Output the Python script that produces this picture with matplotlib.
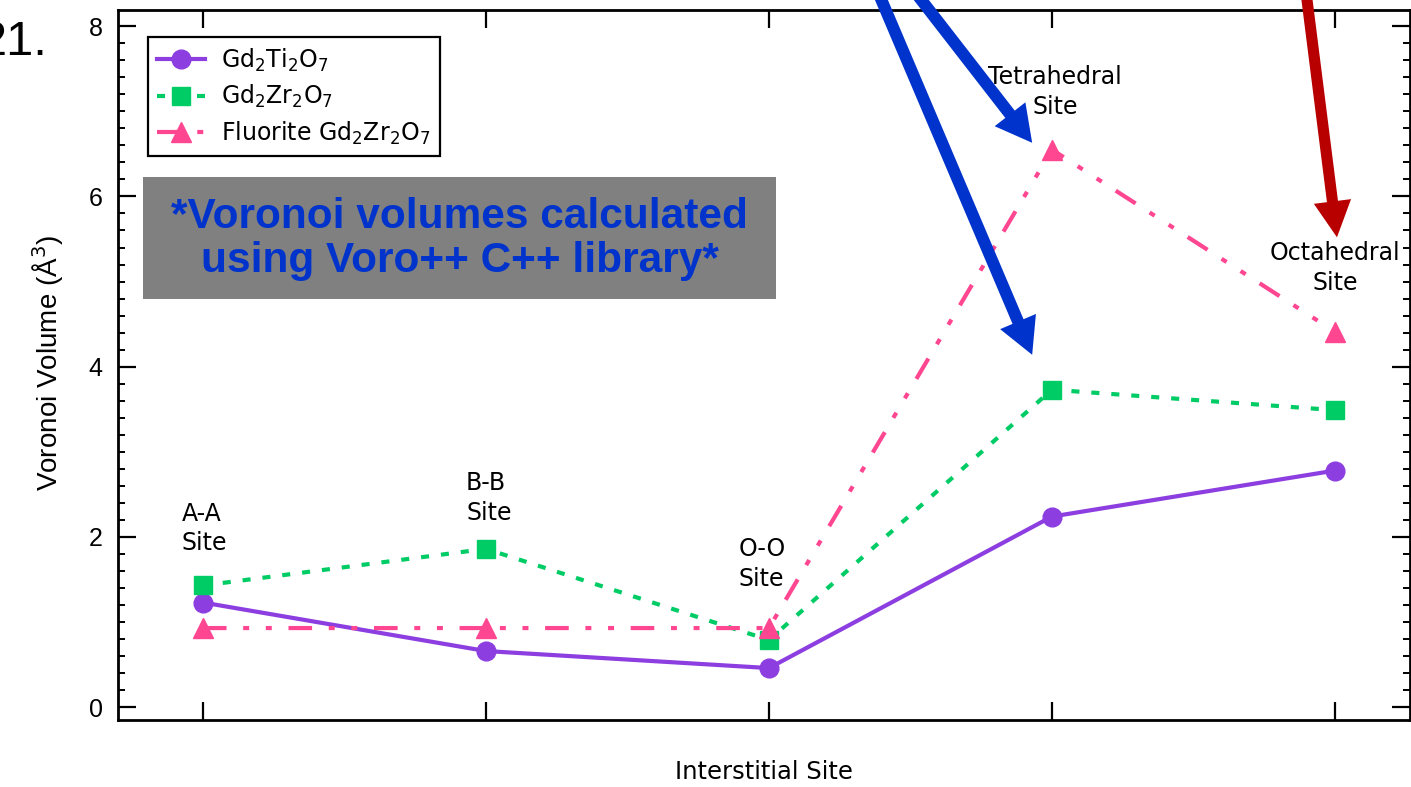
import matplotlib
matplotlib.use('Agg')
import matplotlib.pyplot as plt
from matplotlib.patches import Rectangle
from matplotlib.ticker import MultipleLocator, FuncFormatter

# data
sites = ['A-A Site', 'B-B Site', 'O-O Site', 'Tetrahedral Site', 'Octahedral Site']
gd2ti2o7 = [1.23, 0.66, 0.46, 2.24, 2.78]
gd2zr2o7 = [1.43, 1.86, 0.79, 3.73, 3.49]
fluorite_gd2zr2o7 = [0.93, 0.93, 0.93, 6.55, 4.41]

site_labels = ['A-A\nSite', 'B-B\nSite', 'O-O\nSite', 'Tetrahedral\nSite', 'Octahedral\nSite']

plt.rcParams['font.family'] = ['DejaVu Sans']
plt.rcParams['mathtext.fontset'] = 'dejavusans'
plt.rcParams['lines.scale_dashes'] = False

purple = '#8c3ee0'
green = '#00cc66'
pink = '#ff4690'
blue = '#0033cc'
red = '#b80000'

fig = plt.figure(figsize=(14.11, 7.87), dpi=100)
ax = fig.add_axes([118 / 1411, 67 / 787, 1292 / 1411, 710 / 787])

x = list(range(len(sites)))

# the three series
ax.plot(x, gd2ti2o7, color=purple, lw=3, marker='o', ms=13.5,
        label=r'Gd$_2$Ti$_2$O$_7$', zorder=3)
ax.plot(x, gd2zr2o7, color=green, lw=3, ls=(0, (5.8, 8.6)), marker='s', ms=12.5,
        label=r'Gd$_2$Zr$_2$O$_7$', zorder=4)
ax.plot(x, fluorite_gd2zr2o7, color=pink, lw=3,
        ls=(0, (17, 12, 4.3, 12, 4.3, 12)), marker='^', ms=15,
        label=r'Fluorite Gd$_2$Zr$_2$O$_7$', zorder=5)

ax.set_xlim(-0.30, 4.265)
ax.set_ylim(-0.15, 8.19)

# axes / ticks
for sp in ax.spines.values():
    sp.set_linewidth(2)
ax.set_xticks(x)
ax.set_xticklabels([])
ax.tick_params(axis='x', which='major', direction='in', length=13, width=1.6,
               top=True, bottom=True)
ax.yaxis.set_major_locator(MultipleLocator(2))
ax.yaxis.set_minor_locator(MultipleLocator(0.2))
ax.yaxis.set_major_formatter(FuncFormatter(lambda v, p: '%d' % v))
ax.tick_params(axis='y', which='major', direction='in', length=13, width=1.6,
               left=True, right=True, pad=11, labelsize=18,
               labelfontfamily='Liberation Sans')
ax.tick_params(axis='y', which='minor', direction='in', length=5, width=1.4,
               left=True, right=True)

ax.set_xlabel('Interstitial Site', fontsize=17.5, labelpad=25)
ax.set_ylabel('Voronoi Volume (Å$^3$)', fontsize=20, family='Liberation Sans')
ax.yaxis.set_label_coords(-0.040, 0.503)

# site annotations
ann = dict(fontsize=17, va='center', linespacing=1.3)
ax.text(-0.074, 2.10, site_labels[0], ha='left', **ann)
ax.text(0.93, 2.46, site_labels[1], ha='left', **ann)
ax.text(1.894, 1.68, site_labels[2], ha='left', **ann)
ax.text(3.01, 7.23, site_labels[3], ha='center', **ann)
ax.text(4.0, 5.16, site_labels[4], ha='center', **ann)

# grey note box
ax.add_patch(Rectangle((25 / 1292, 421 / 710), 633 / 1292, 122 / 710,
                       transform=ax.transAxes, facecolor='#808080', edgecolor='none',
                       zorder=2))
ax.text(341.5 / 1292, 481 / 710, '*Voronoi volumes calculated\nusing Voro++ C++ library*',
        transform=ax.transAxes, ha='center', va='center', fontsize=30.5,
        family='Liberation Sans', weight='bold', color=blue, linespacing=1.1, zorder=3)

# arrows coming in from the top
def big_arrow(tail, tip, color, tw, hw, hl):
    ax.annotate('', xy=tip, xytext=tail, xycoords='data', textcoords='data',
                annotation_clip=False,
                arrowprops=dict(arrowstyle='simple,head_length=%g,head_width=%g,tail_width=%g' % (hl, hw, tw),
                                mutation_scale=1, color=color, lw=0,
                                shrinkA=0, shrinkB=0, clip_on=False), zorder=6)

big_arrow((2.47, 8.6), (2.93, 6.63), blue, 8.6, 28, 26)
big_arrow((2.36, 8.6), (2.93, 4.14), blue, 8.6, 28, 26)
big_arrow((3.89, 8.6), (4.007, 5.52), red, 8.0, 27, 26)

leg = ax.legend(loc='upper left', bbox_to_anchor=(30 / 1292, 683 / 710), borderaxespad=0,
                fontsize=17, handlelength=2.0, handletextpad=0.7, labelspacing=0.4,
                borderpad=0.4, fancybox=False, framealpha=1, edgecolor='black')
leg.get_frame().set_linewidth(1.6)

fig.text(-20 / 1411, 732 / 787, '21.', fontsize=35, family='Liberation Sans', va='baseline')

fig.savefig('out.png', dpi=100)
